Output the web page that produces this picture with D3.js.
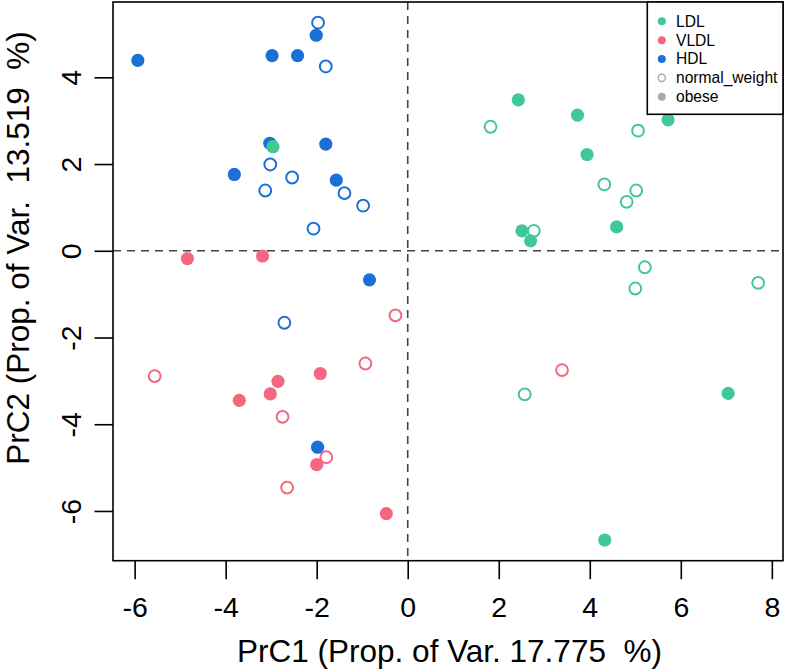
<!DOCTYPE html>
<html><head><meta charset="utf-8">
<script src="https://cdn.jsdelivr.net/npm/d3@7"></script>
<style>body{margin:0;background:#fff}svg{display:block}</style>
</head><body>
<svg id="chart" width="787" height="672"></svg>
<script>
// ---- data ----
const groups = ["LDL", "VLDL", "HDL"];
const groupColors = ["#40c997", "#f4677f", "#1b6fd7"];
const xTicks = [-6, -4, -2, 0, 2, 4, 6, 8];
const yTicks = [-6, -4, -2, 0, 2, 4];

const hdlObeseX = [-5.93, -2.98, -2.42, -2.01, -3.03, -1.80, -3.81, -1.57, -0.84, -1.98];
const hdlObeseY = [4.39, 4.50, 4.50, 4.97, 2.48, 2.46, 1.76, 1.63, -0.67, -4.53];
const hdlNormalX = [-1.97, -1.80, -3.02, -2.54, -3.13, -1.39, -0.98, -2.07, -2.71];
const hdlNormalY = [5.26, 4.25, 1.99, 1.69, 1.39, 1.33, 1.04, 0.51, -1.66];

const vldlObeseX = [-4.84, -3.19, -1.92, -2.85, -3.02, -3.70, -2.00, -0.47];
const vldlObeseY = [-0.18, -0.12, -2.83, -3.01, -3.30, -3.45, -4.93, -6.06];
const vldlNormalX = [-0.27, -0.93, -5.56, -2.75, -1.79, -2.65, 3.39];
const vldlNormalY = [-1.49, -2.60, -2.89, -3.83, -4.76, -5.46, -2.75];

const ldlObeseX = [2.43, 3.73, 5.72, 3.94, 4.59, 2.51, 7.04, 4.33, -2.96, 2.70];
const ldlObeseY = [3.48, 3.13, 3.02, 2.22, 0.55, 0.46, -3.29, -6.67, 2.40, 0.23];
const ldlNormalX = [1.82, 5.06, 4.32, 5.02, 4.81, 2.77, 5.21, 5.00, 7.70, 2.57];
const ldlNormalY = [2.86, 2.77, 1.53, 1.39, 1.13, 0.46, -0.38, -0.87, -0.74, -3.31];

const legendLabels = ["LDL", "VLDL", "HDL", "normal_weight", "obese"];
const xTitle = "PrC1 (Prop. of Var. 17.775  %)";
const yTitle = "PrC2 (Prop. of Var.  13.519  %)";

// ---- build series ----
function pts(xs, ys, group, open) {
  return xs.map((x, i) => ({x, y: ys[i], group, open}));
}
const series = [
  pts(hdlObeseX, hdlObeseY, "HDL", false),
  pts(hdlNormalX, hdlNormalY, "HDL", true),
  pts(vldlObeseX, vldlObeseY, "VLDL", false),
  pts(vldlNormalX, vldlNormalY, "VLDL", true),
  pts(ldlObeseX, ldlObeseY, "LDL", false),
  pts(ldlNormalX, ldlNormalY, "LDL", true)
];
const allPts = series.flat();
const color = d3.scaleOrdinal().domain(groups).range(groupColors);

// ---- layout ----
const svg = d3.select("#chart");
const L = 113, T = 2, R = 783, B = 560.7;
const font = "'Liberation Sans', Arial, Helvetica, sans-serif";

// R-like 4% extension of data range
const xmin = d3.min(allPts, d => d.x), xmax = d3.max(allPts, d => d.x);
const ymin = d3.min(allPts, d => d.y), ymax = d3.max(allPts, d => d.y);
const xd = xmax - xmin, yd = ymax - ymin;
const x = d3.scaleLinear().domain([xmin - 0.04 * xd, xmax + 0.04 * xd]).range([L, R]);
const y = d3.scaleLinear().domain([ymin - 0.04 * yd, ymax + 0.04 * yd]).range([B, T]);

// axes
const xAxis = svg.append("g").attr("transform", `translate(0,${B})`)
  .call(d3.axisBottom(x).tickValues(xTicks).tickSize(18.5).tickPadding(18).tickFormat(d3.format("d")));
xAxis.select(".domain").remove();
xAxis.selectAll("line").attr("stroke", "#000").attr("stroke-width", 1.6);
xAxis.selectAll("text").attr("font-family", font).attr("font-size", 28.5).attr("fill", "#000")
  .text(d => String(d).replace("−", "-"));

const yAxis = svg.append("g").attr("transform", `translate(${L},0)`)
  .call(d3.axisLeft(y).tickValues(yTicks).tickSize(18.5).tickPadding(0).tickFormat(d3.format("d")));
yAxis.select(".domain").remove();
yAxis.selectAll("line").attr("stroke", "#000").attr("stroke-width", 1.6);
yAxis.selectAll("text")
  .attr("font-family", font).attr("font-size", 28.5).attr("fill", "#000")
  .attr("x", null).attr("dy", null)
  .attr("text-anchor", "middle")
  .attr("transform", "translate(-32,0) rotate(-90)")
  .text(d => String(d).replace("−", "-"));

// reference dashed lines
svg.append("line").attr("x1", x(0)).attr("x2", x(0)).attr("y1", T).attr("y2", B)
  .attr("stroke", "#444").attr("stroke-width", 1.6).attr("stroke-dasharray", "8,6");
svg.append("line").attr("x1", L).attr("x2", R).attr("y1", y(0)).attr("y2", y(0))
  .attr("stroke", "#444").attr("stroke-width", 1.6).attr("stroke-dasharray", "8,6");

// points
series.forEach(s => {
  svg.append("g").selectAll("circle").data(s).join("circle")
    .attr("cx", d => x(d.x)).attr("cy", d => y(d.y))
    .attr("r", d => d.open ? 5.9 : 6.6)
    .attr("fill", d => d.open ? "#fff" : color(d.group))
    .attr("fill-opacity", d => d.open ? 0 : 1)
    .attr("stroke", d => d.open ? color(d.group) : "none")
    .attr("stroke-width", 2);
});

// box
svg.append("rect").attr("x", L).attr("y", T).attr("width", R - L).attr("height", B - T)
  .attr("fill", "none").attr("stroke", "#000").attr("stroke-width", 1.6);

// legend
const lg = svg.append("g");
lg.append("rect").attr("x", 647.3).attr("y", T).attr("width", R - 647.3).attr("height", 114.3 - T)
  .attr("fill", "#fff").attr("stroke", "#000").attr("stroke-width", 1.6);
const legendRowY = d3.scalePoint().domain(legendLabels).range([21.3, 96.7]);
const legendSym = [
  {fill: groupColors[0], stroke: "none"},
  {fill: groupColors[1], stroke: "none"},
  {fill: groupColors[2], stroke: "none"},
  {fill: "none", stroke: "#aaaaaa"},
  {fill: "#aaaaaa", stroke: "none"}
];
legendLabels.forEach((lab, i) => {
  const yy = legendRowY(lab);
  lg.append("circle").attr("cx", 661.8).attr("cy", yy)
    .attr("r", legendSym[i].stroke === "none" ? 4 : 3.6)
    .attr("fill", legendSym[i].fill).attr("stroke", legendSym[i].stroke).attr("stroke-width", 1.4);
  lg.append("text").attr("x", 676).attr("y", yy).attr("dy", "0.35em")
    .attr("font-family", font).attr("font-size", 15.6).attr("fill", "#000").text(lab);
});

// titles
svg.append("text").attr("x", 449.5).attr("y", 662)
  .attr("text-anchor", "middle").attr("font-family", font).attr("font-size", 31.5)
  .attr("fill", "#000").style("white-space", "pre").text(xTitle);
svg.append("text").attr("transform", "translate(29,248) rotate(-90)")
  .attr("text-anchor", "middle").attr("font-family", font).attr("font-size", 31.5)
  .attr("fill", "#000").style("white-space", "pre").text(yTitle);
</script>
</body></html>
